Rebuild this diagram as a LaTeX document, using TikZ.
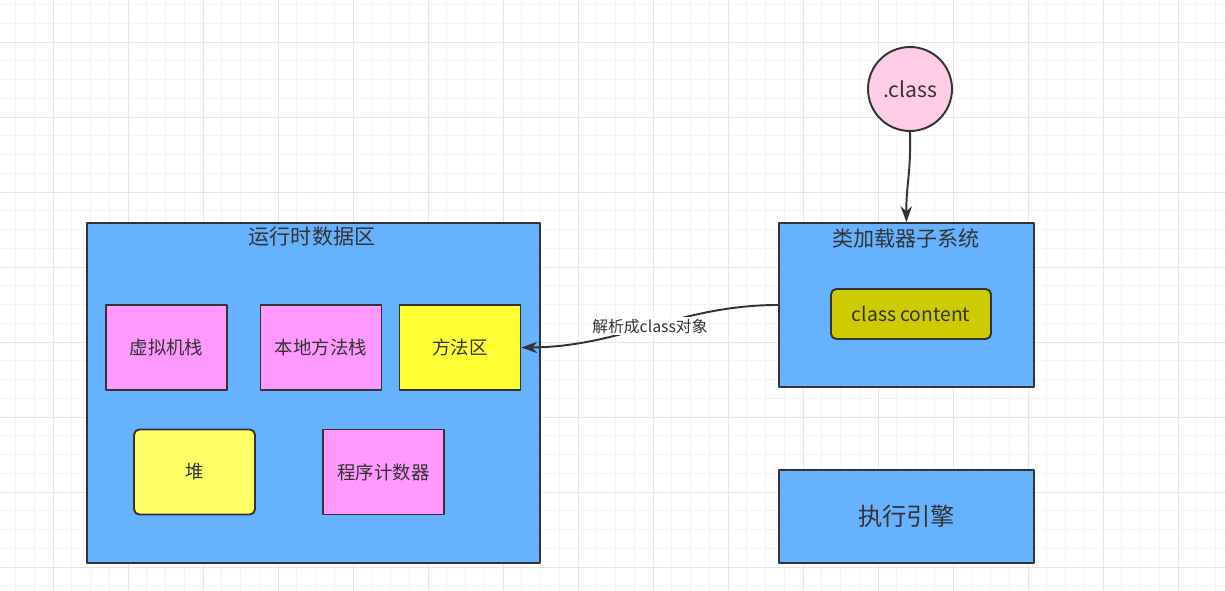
\documentclass[tikz,border=0pt]{standalone}
\usepackage{fontspec}
\setmainfont{Noto Sans CJK SC}
\usetikzlibrary{arrows.meta}
\definecolor{edgegray}{HTML}{333333}
\definecolor{areablue}{HTML}{66B2FF}
\definecolor{stackpink}{HTML}{FF99FF}
\definecolor{methodyellow}{HTML}{FFFF33}
\definecolor{heapyellow}{HTML}{FFFF66}
\definecolor{contentolive}{HTML}{CCCC00}
\definecolor{classpink}{HTML}{FFCCE6}
\definecolor{gridminor}{HTML}{F4F4F4}
\definecolor{gridmajor}{HTML}{E6E6E6}
\begin{document}
\begin{tikzpicture}[x=0.02cm, y=-0.02cm, line join=round, line cap=round, >={Stealth[length=9pt,width=6.5pt]},
	box/.style={draw=edgegray, line width=1.1pt, text=edgegray, inner sep=0pt},
	area/.style={box, fill=areablue, minimum width=5.1cm},
	part/.style={box, minimum width=2.42cm, minimum height=1.7cm, font=\fontsize{10.5}{12}\selectfont},
	caption/.style={text=edgegray, font=\fontsize{12}{14}\selectfont},
	link/.style={->, draw=edgegray, line width=1.1pt}]
	\useasboundingbox (0,0) rectangle (1225,591);
	\fill[white] (0,0) rectangle (1225,591);
	% grid
	\foreach \i in {0,...,65}\draw[gridminor, line width=.5pt](15.5+18.75*\i,0)--(15.5+18.75*\i,591);
	\foreach \i in {0,...,31}\draw[gridminor, line width=.5pt](0,4.5+18.75*\i)--(1225,4.5+18.75*\i);
	\foreach \i in {0,...,16}\draw[gridmajor, line width=.5pt](53+75*\i,0)--(53+75*\i,591);
	\foreach \i in {0,...,7}\draw[gridmajor, line width=.5pt](0,42+75*\i)--(1225,42+75*\i);
	% runtime data area
	\node[area, minimum width=9.06cm, minimum height=6.8cm](runtime) at (313.5,393){};
	\node[caption](runtimetitle) at (312,237){运行时数据区};
	\node[part, fill=stackpink](vmstack) at (166.5,347.5){虚拟机栈};
	\node[part, fill=stackpink](nativestack) at (321,347.5){本地方法栈};
	\node[part, fill=methodyellow](methodarea) at (460,347.5){方法区};
	\node[part, fill=heapyellow, rounded corners=3pt](heap) at (194.5,472){堆};
	\node[part, fill=stackpink](pcounter) at (383.5,472){程序计数器};
	% class loader
	\node[area, minimum height=3.28cm](loader) at (906.5,305){};
	\node[caption](loadertitle) at (906,238){类加载器子系统};
	\node[box, fill=contentolive, rounded corners=3pt, minimum width=3.2cm, minimum height=1cm, font=\fontsize{11}{13}\selectfont](content) at (911,314){class content};
	\node[area, minimum height=1.86cm, font=\fontsize{13.8}{16}\selectfont](engine) at (906.5,516.5){执行引擎};
	\node[box, circle, fill=classpink, minimum size=1.68cm, font=\fontsize{12}{14}\selectfont](classfile) at (910,89){.class};
	% arrows
	\draw[link](classfile.south) .. controls (911,175) and (906,185) .. (loader.north);
	\draw[link](loader.west) .. controls (680,305) and (620,347) .. node[fill=white, text=edgegray, inner sep=1pt, font=\fontsize{9}{11}\selectfont, pos=.5](parselabel){解析成class对象} (methodarea.east);
\end{tikzpicture}
\end{document}
